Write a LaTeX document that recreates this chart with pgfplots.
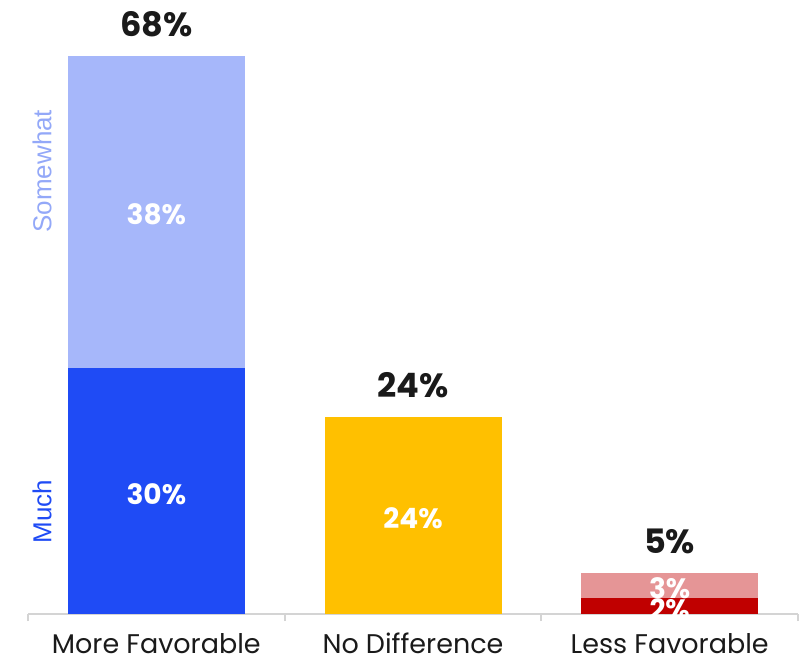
\documentclass[border=0pt]{standalone}
\usepackage{pgfplots}
\pgfplotsset{compat=1.18}
\usepackage{fontspec}
\setmainfont{Poppins}
\newfontfamily\arialf{Liberation Sans}
\definecolor{cblue}{HTML}{1F4BF5}
\definecolor{clblue}{HTML}{A6B7FA}
\definecolor{ctxtlblue}{HTML}{93A8F8}
\definecolor{cyellow}{HTML}{FFC000}
\definecolor{cdred}{HTML}{C00000}
\definecolor{clred}{HTML}{E59596}
\definecolor{ctext}{HTML}{1A1A1A}
\definecolor{cgrid}{HTML}{D4D4D4}
\begin{document}
\begin{tikzpicture}
\begin{axis}[
  scale only axis,
  width=385pt, height=307pt,
  ybar stacked,
  bar width=88.5pt,
  xmin=-0.5, xmax=2.5,
  ymin=0, ymax=74.88,
  axis y line=none,
  axis x line*=bottom,
  x axis line style={cgrid, line width=1pt, -},
  xtick={0,1,2},
  xticklabels={More Favorable, No Difference, Less Favorable},
  major x tick style={draw=none},
  minor xtick={-0.5,0.5,1.5,2.5},
  minor x tick style={cgrid, line width=1pt},
  minor tick length=3.5pt,
  tick align=outside,
  xticklabel style={font=\fontsize{13.5}{16}\selectfont, text=ctext, anchor=base, inner sep=0pt, yshift=-15.5pt},
  clip=false,
]
\addplot[fill=cblue, draw=none] coordinates {(0,30) (1,0) (2,0)};
\addplot[fill=cyellow, draw=none] coordinates {(0,0) (1,24) (2,0)};
\addplot[fill=cdred, draw=none] coordinates {(0,0) (1,0) (2,2)};
\addplot[fill=clblue, draw=none] coordinates {(0,38) (1,0) (2,0)};
\addplot[fill=clred, draw=none] coordinates {(0,0) (1,0) (2,3)};
% totals
\node[font=\bfseries\fontsize{16.8}{19}\selectfont, text=ctext] at (axis cs:0,68) [yshift=16pt] {68\%};
\node[font=\bfseries\fontsize{16.8}{19}\selectfont, text=ctext] at (axis cs:1,24) [yshift=16pt] {24\%};
\node[font=\bfseries\fontsize{16.8}{19}\selectfont, text=ctext] at (axis cs:2,5) [yshift=16pt] {5\%};
\coordinate (p38) at (axis cs:0,48.8);
\coordinate (p30) at (axis cs:0,14.6);
\coordinate (p24) at (axis cs:1,11.7);
\coordinate (p3) at (axis cs:2,3.1);
\coordinate (twoP) at (axis cs:2,0.6);
\coordinate (clipA) at (axis cs:1.5,0);
\coordinate (clipB) at (axis cs:2.5,10);
% side labels
\node[font=\arialf\fontsize{13}{15}\selectfont, text=ctxtlblue, rotate=90] at (axis cs:-0.445,54) {Somewhat};
\node[font=\arialf\fontsize{13}{15}\selectfont, text=cblue, rotate=90] at (axis cs:-0.445,12.5) {Much};
\end{axis}
\begin{scope}[every node/.style={font=\bfseries\fontsize{14}{16}\selectfont, text=white}]
\node at (p38) {38\%};
\node at (p30) {30\%};
\node at (p24) {24\%};
\node at (p3) {3\%};
\end{scope}
\begin{scope}
\clip (clipA) rectangle (clipB);
\node[font=\bfseries\fontsize{14}{16}\selectfont, text=white] at (twoP) {2\%};
\end{scope}
\path (current axis.south west) ++(-14pt,-22.5pt);
\path (current axis.north east) ++(1pt,0pt);
\end{tikzpicture}
\end{document}
